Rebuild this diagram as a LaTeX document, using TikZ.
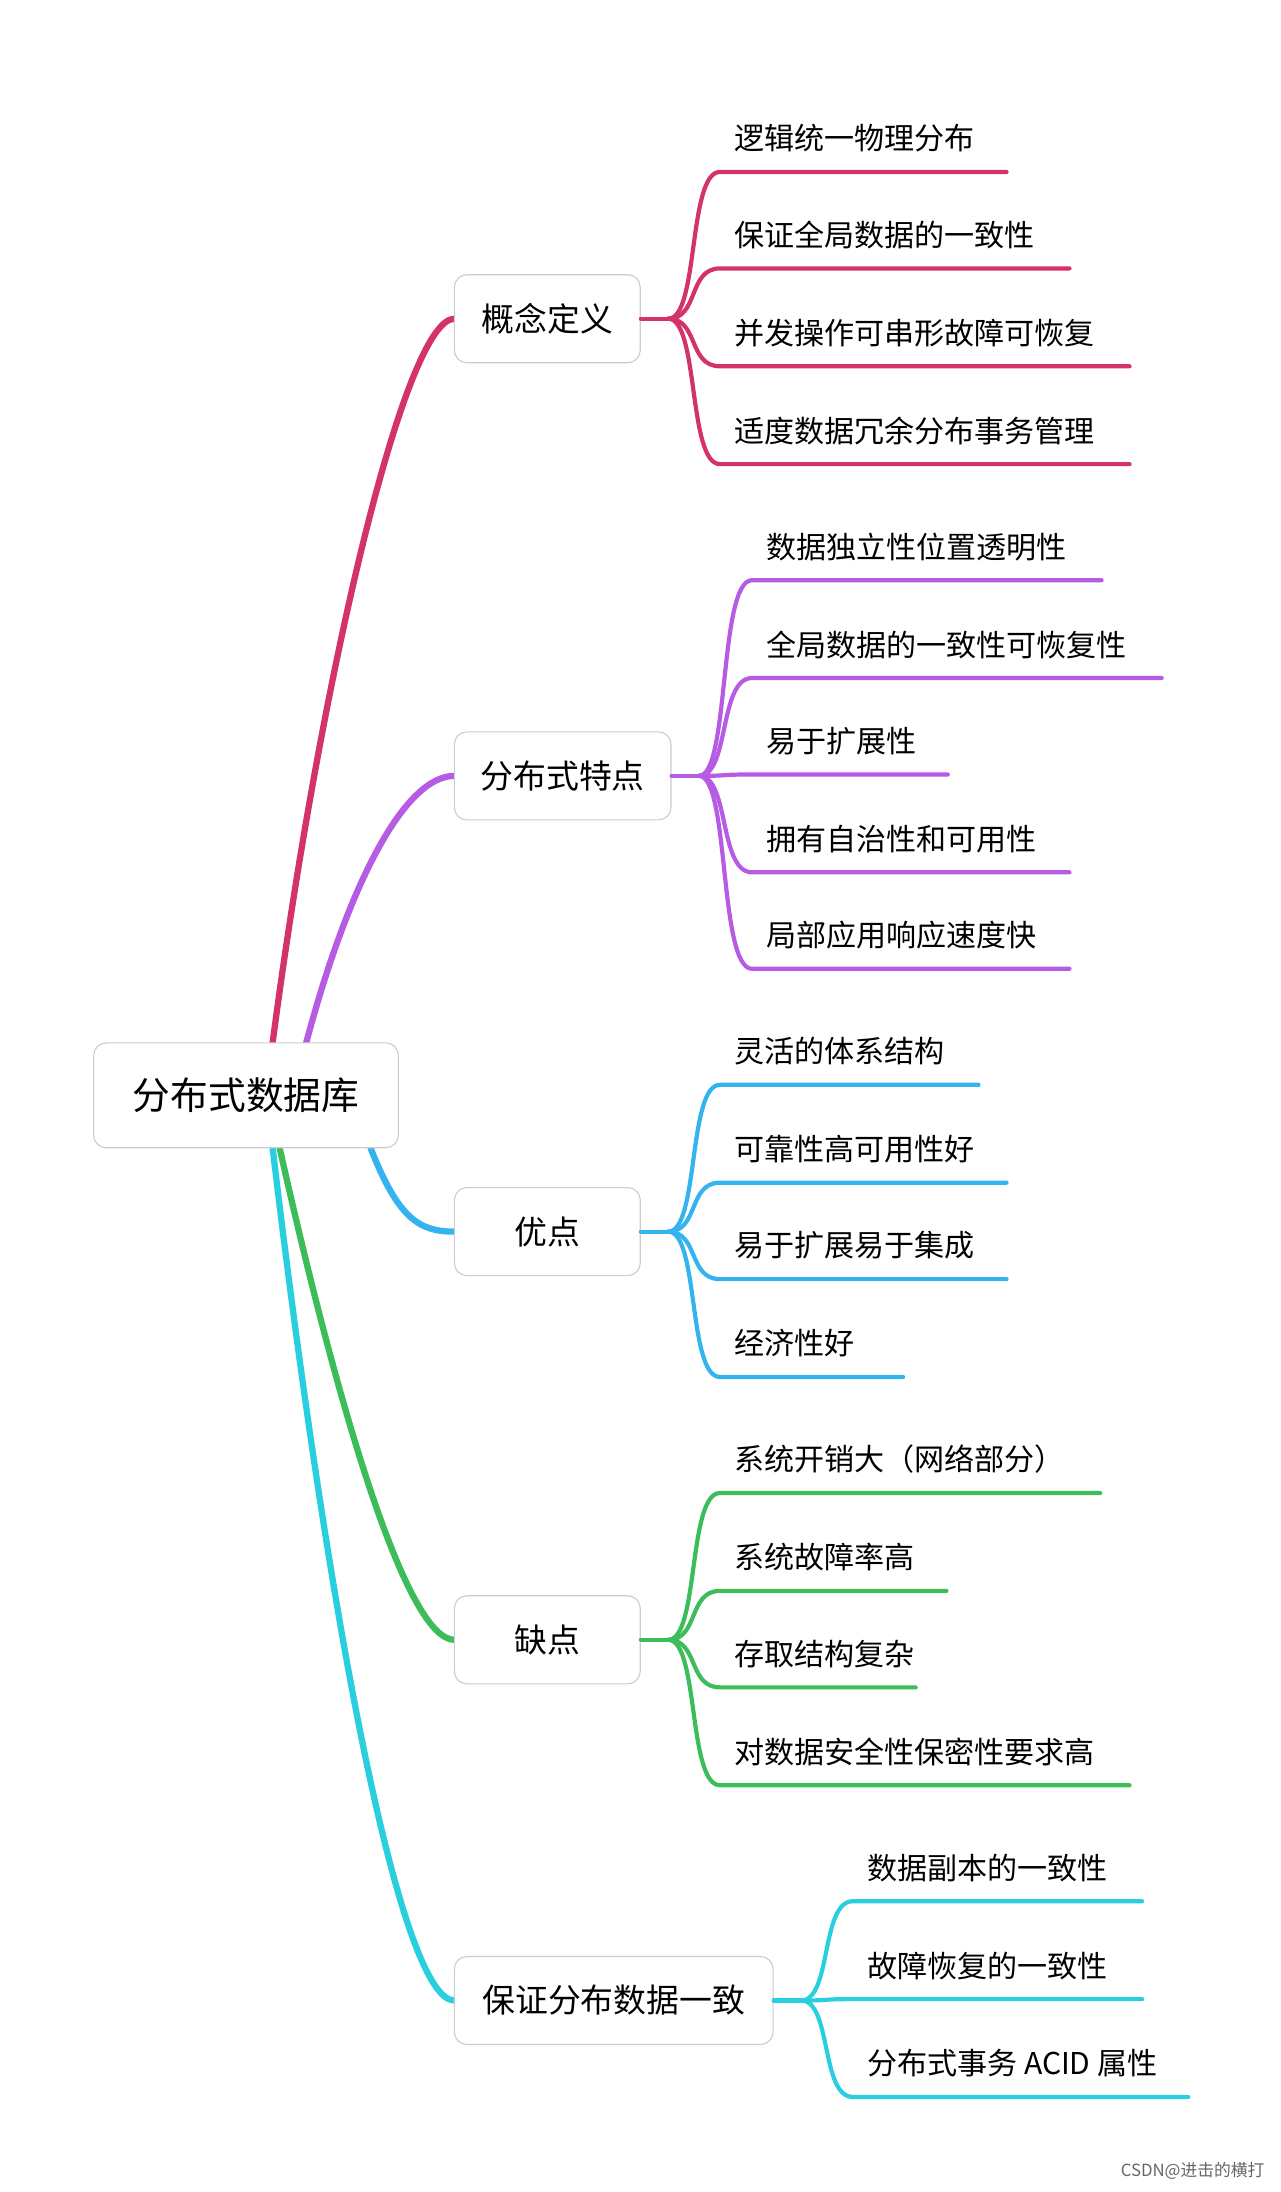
\documentclass[tikz,border=0pt]{standalone}
\usepackage{fontspec}
\setmainfont{Noto Sans CJK SC}
\begin{document}
\begin{tikzpicture}[x=1pt,y=-1pt,
  box/.style={draw=black!20,fill=white,rounded corners=9pt,line width=0.8pt,font=\fontsize{23.5}{26}\selectfont,inner sep=0pt},
  leaf/.style={anchor=west,font=\fontsize{21.5}{24}\selectfont,inner sep=0pt},
  main/.style={line width=4.5pt,line cap=round},
  sub/.style={line width=3pt,line cap=round}]
\useasboundingbox (0,0) rectangle (916,1568);
\definecolor{cA}{HTML}{D43369}\definecolor{cB}{HTML}{B65BE4}\definecolor{cC}{HTML}{34B4EE}
\definecolor{cD}{HTML}{3CBD5A}\definecolor{cE}{HTML}{2ACFDF}
% root links
\coordinate (r1) at (195,746);\coordinate (r2) at (219,746);\coordinate (r3) at (265,821);
\coordinate (r4) at (200,821);\coordinate (r5) at (195,821);
\draw[main,cA] (r1) .. controls (230,480) and (290,228) .. (325,228);
\draw[main,cB] (r2) .. controls (250,630) and (290,555) .. (325,555);
\draw[main,cC] (r3) .. controls (285,872) and (300,881) .. (325,881);
\draw[main,cD] (r4) .. controls (240,1000) and (290,1173) .. (325,1173);
\draw[main,cE] (r5) .. controls (240,1200) and (290,1431) .. (325,1431);
\node[box,minimum width=218,minimum height=75,font=\fontsize{27}{30}\selectfont] (root) at (176,783.5) {分布式数据库};
% branches
\node[box,minimum width=133,minimum height=63] (b1) at (391.5,228) {概念定义};
\node[box,minimum width=155,minimum height=63] (b2) at (402.5,555) {分布式特点};
\node[box,minimum width=133,minimum height=63] (b3) at (391.5,881) {优点};
\node[box,minimum width=133,minimum height=63] (b4) at (391.5,1173) {缺点};
\node[box,minimum width=228,minimum height=63] (b5) at (439,1431) {保证分布数据一致};
\newcommand{\leafset}[6]{%
  \coordinate (f#1) at (#3,#4);
  \draw[sub,#2] (b#1.east) -- (f#1);
  \foreach \yy/\ee/\tt [count=\i] in {#6} {
    \coordinate (s#1\i) at (#5,\yy);
    \coordinate (e#1\i) at (\ee,\yy);
    \draw[sub,#2] (f#1) .. controls (#3+22,#4) and (#3+14,\yy) .. (s#1\i) -- (e#1\i);
    \node[leaf] (t#1\i) at (#5+10,\yy-24) {\tt};
  }}
\leafset{1}{cA}{478}{228}{515}{123/720/逻辑统一物理分布,192/765/保证全局数据的一致性,262/808/并发操作可串形故障可恢复,332/808/适度数据冗余分布事务管理}
\leafset{2}{cB}{500}{555}{538}{415/788/数据独立性位置透明性,485/831/全局数据的一致性可恢复性,554/678/易于扩展性,624/765/拥有自治性和可用性,693/765/局部应用响应速度快}
\leafset{3}{cC}{478}{881}{515}{776/700/灵活的体系结构,846/720/可靠性高可用性好,915/720/易于扩展易于集成,985/646/经济性好}
\leafset{4}{cD}{478}{1173}{515}{1068/787/系统开销大（网络部分）,1138/677/系统故障率高,1207/655/存取结构复杂,1277/808/对数据安全性保密性要求高}
\leafset{5}{cE}{573}{1431}{610}{1360/817/数据副本的一致性,1430/817/故障恢复的一致性,1500/850/分布式事务 ACID 属性}
\node[font=\fontsize{12}{14}\selectfont,text=black!60,anchor=east] (wm) at (908,1553) {CSDN@进击的横打};
\end{tikzpicture}
\end{document}
